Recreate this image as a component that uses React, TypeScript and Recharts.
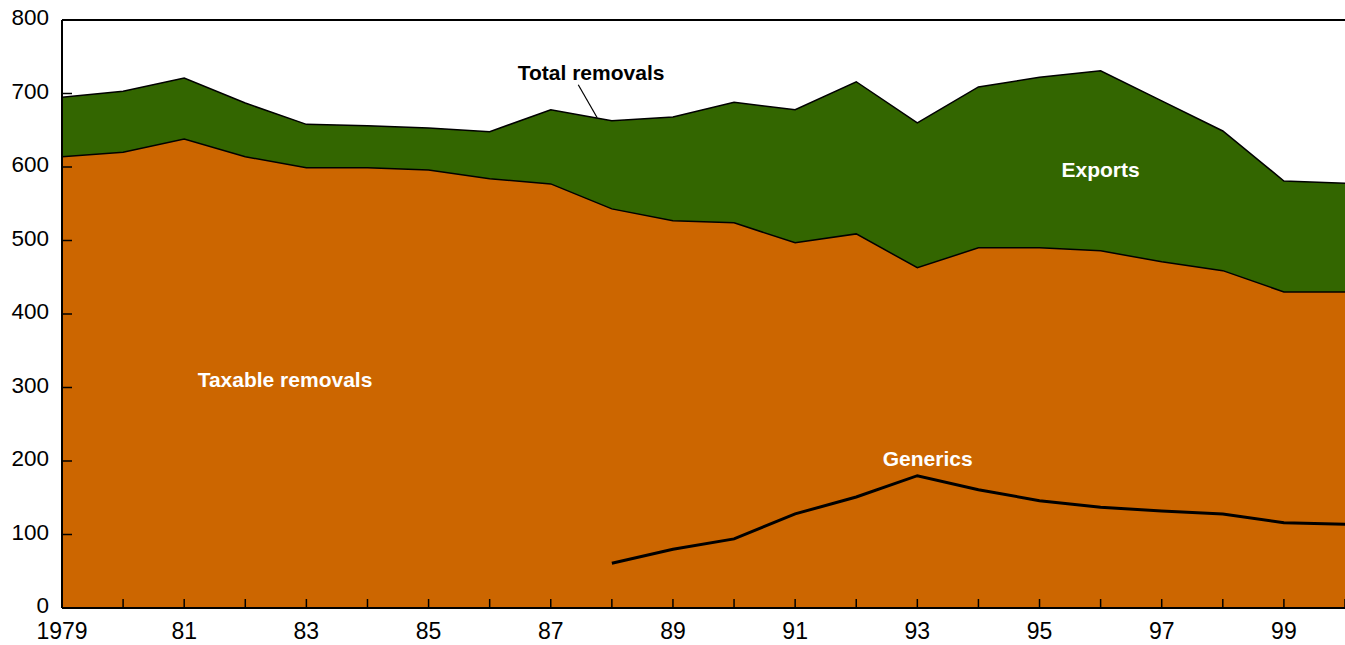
import React from 'react';
import { ComposedChart, Area, Line, XAxis, YAxis, ReferenceLine, ReferenceDot } from 'recharts';

const years = [1979, 1980, 1981, 1982, 1983, 1984, 1985, 1986, 1987, 1988, 1989, 1990, 1991, 1992, 1993, 1994, 1995, 1996, 1997, 1998, 1999, 2000];
const totalRemovals = [695, 703, 721, 687, 658, 656, 653, 648, 678, 663, 668, 688, 678, 716, 660, 709, 722, 731, 690, 649, 581, 578];
const taxableRemovals = [614, 620, 638, 614, 599, 599, 596, 584, 577, 543, 527, 524, 497, 509, 463, 490, 490, 486, 471, 459, 430, 430];
const generics: (number | null)[] = [null, null, null, null, null, null, null, null, null, 61, 80, 94, 128, 151, 180, 161, 146, 137, 132, 128, 116, 114];
const yTicks = [0, 100, 200, 300, 400, 500, 600, 700, 800];

const data = years.map((year, i) => ({
  year,
  total: totalRemovals[i],
  taxable: taxableRemovals[i],
  generics: generics[i],
}));

const FONT = '"Liberation Sans", Arial, Helvetica, sans-serif';

const xLabel = (v: number) => (v === 1979 ? '1979' : v % 2 === 1 ? String(v).slice(2) : '');

const XTick = (props: any) => {
  const { x, y, payload } = props;
  const label = xLabel(payload.value);
  return (
    <g>
      <line x1={x} x2={x} y1={y - 9} y2={y} stroke="#000" strokeWidth={1.5} />
      {label ? (
        <text x={x} y={y + 31} textAnchor="middle" fontSize={23} fill="#000" fontFamily={FONT}>
          {label}
        </text>
      ) : null}
    </g>
  );
};

const YTick = (props: any) => {
  const { x, y, payload } = props;
  return (
    <g>
      <line x1={x} x2={x + 10} y1={y} y2={y} stroke="#000" strokeWidth={1.5} />
      <text x={x - 13} y={y + 5.2} textAnchor="end" fontSize={22.5} fill="#000" fontFamily={FONT}>
        {payload.value}
      </text>
    </g>
  );
};

const labelStyle = { fontSize: 21, fontWeight: 700, fontFamily: FONT } as const;

export default function App() {
  return (
    <div style={{ position: 'absolute', left: 0, top: 0, width: 1345, height: 645, background: '#fff' }}>
      <ComposedChart width={1345} height={645} data={data} margin={{ top: 20, right: 0, bottom: 0, left: 0 }}>
        <XAxis
          dataKey="year"
          type="number"
          domain={[1979, 2000]}
          ticks={years}
          interval={0}
          height={37}
          tickSize={0}
          tickMargin={0}
          tickLine={false}
          tick={<XTick />}
          axisLine={{ stroke: '#000', strokeWidth: 2 }}
          allowDataOverflow
        />
        <YAxis
          type="number"
          domain={[0, 800]}
          ticks={yTicks}
          interval={0}
          width={62}
          tickSize={0}
          tickMargin={0}
          tickLine={false}
          tick={<YTick />}
          axisLine={{ stroke: '#000', strokeWidth: 2 }}
          allowDataOverflow
        />
        <Area
          type="linear"
          dataKey="total"
          stroke="#000"
          strokeWidth={1.5}
          fill="#336600"
          fillOpacity={1}
          dot={false}
          activeDot={false}
          isAnimationActive={false}
        />
        <Area
          type="linear"
          dataKey="taxable"
          stroke="#000"
          strokeWidth={1.5}
          fill="#CC6600"
          fillOpacity={1}
          dot={false}
          activeDot={false}
          isAnimationActive={false}
        />
        <Line
          type="linear"
          dataKey="generics"
          stroke="#000"
          strokeWidth={3}
          dot={false}
          activeDot={false}
          connectNulls={false}
          isAnimationActive={false}
        />
        <ReferenceLine y={800} stroke="#000" strokeWidth={2} />
        <ReferenceLine
          segment={[
            { x: 1987.45, y: 712 },
            { x: 1987.76, y: 667 },
          ]}
          stroke="#000"
          strokeWidth={1.2}
        />
        <ReferenceDot x={1987.66} y={729} r={0} fill="none" stroke="none"
          label={{ value: 'Total removals', position: 'center', fill: '#000', ...labelStyle }} />
        <ReferenceDot x={1996.0} y={597} r={0} fill="none" stroke="none"
          label={{ value: 'Exports', position: 'center', fill: '#fff', ...labelStyle }} />
        <ReferenceDot x={1982.65} y={311} r={0} fill="none" stroke="none"
          label={{ value: 'Taxable removals', position: 'center', fill: '#fff', ...labelStyle }} />
        <ReferenceDot x={1993.17} y={204} r={0} fill="none" stroke="none"
          label={{ value: 'Generics', position: 'center', fill: '#fff', ...labelStyle }} />
      </ComposedChart>
    </div>
  );
}
